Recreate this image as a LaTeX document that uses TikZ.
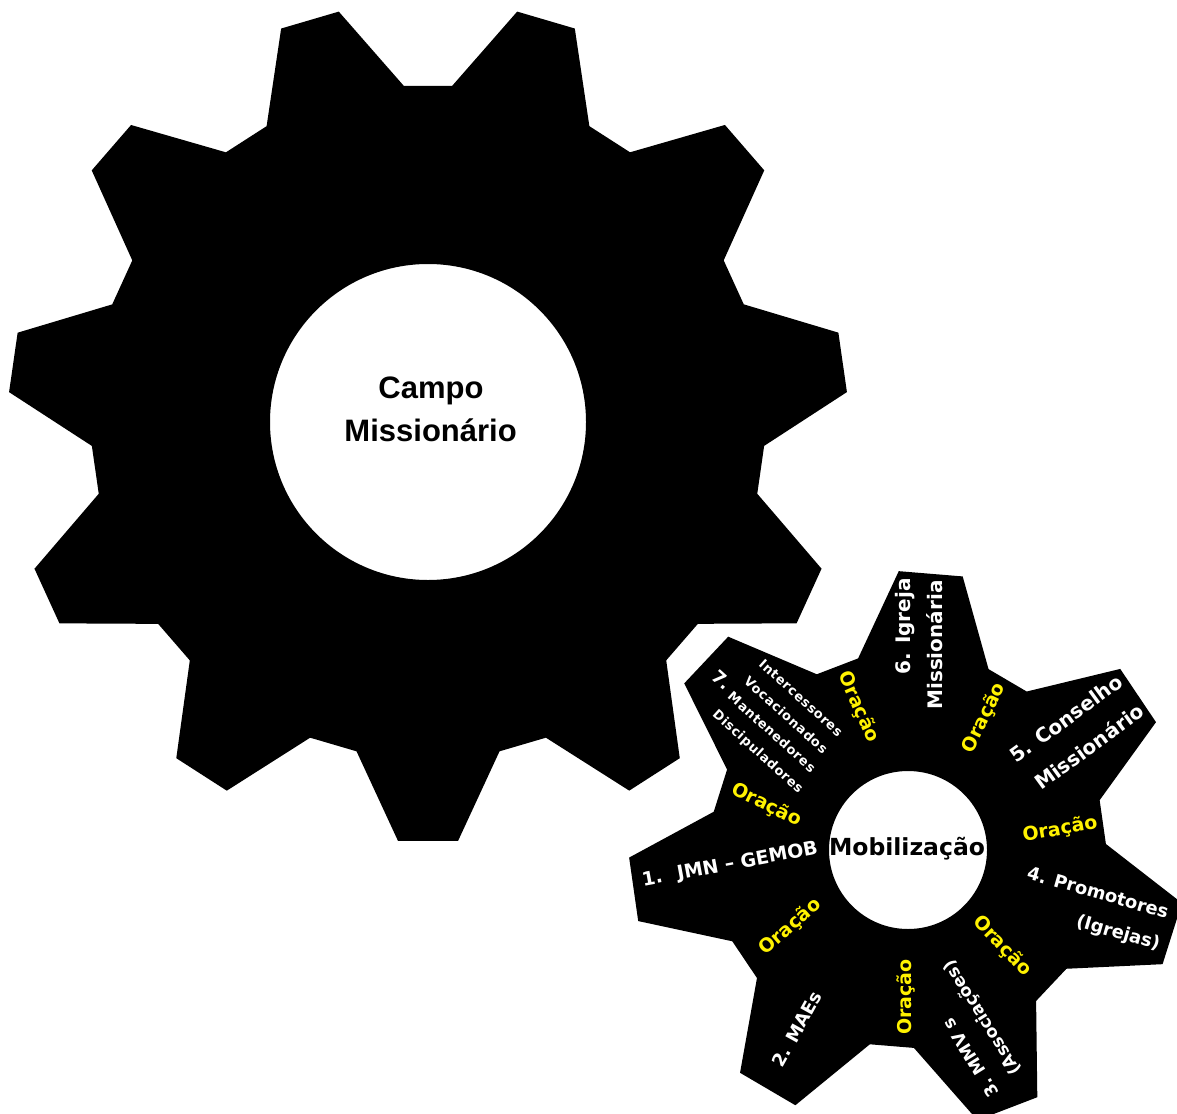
\documentclass[tikz,border=0pt]{standalone}
\usepackage{fontspec}
\newfontfamily\gearfont{DejaVu Sans}
\newfontfamily\gearfontsp[LetterSpace=5]{DejaVu Sans}
\newfontfamily\bigfont{Liberation Sans}
\begin{document}
\begin{tikzpicture}[x=1pt,y=1pt,
  gear/.style={fill=black, even odd rule},
  wt/.style={text=white, inner sep=0pt, font=\gearfont\bfseries\fontsize{#1}{#1}\selectfont},
  wsm/.style={text=white, inner sep=0pt, font=\gearfontsp\bfseries\fontsize{13}{13}\selectfont},
  orc/.style={text=yellow, inner sep=0pt, font=\gearfont\bfseries\fontsize{19}{19}\selectfont},
  midtext/.style={text=black, inner sep=0pt, font=\gearfont\bfseries\fontsize{23.5}{23.5}\selectfont},
  bigtext/.style={text=black, inner sep=0pt, anchor=base, font=\bigfont\bfseries\fontsize{31}{31}\selectfont}]
\useasboundingbox (0,0) rectangle (1177,-1113);
\clip (0,0) rectangle (1177,-1113);
\coordinate (c1) at (428,-422);
\coordinate (c2) at (908,-850);
% big gear: 11 teeth
\begin{scope}[shift={(c1)}]
\fill[gear] (61.39:337)
  \foreach \k [evaluate=\k as \a using 73.64+\k*32.7273] in {0,...,10} {
    -- ({\a-12.25}:337) -- ({\a-4.1}:420) -- ({\a+4.1}:420) -- ({\a+12.25}:337) }
  -- cycle (0,0) circle[radius=158];
\end{scope}
% small gear: 7 teeth
\begin{scope}[shift={(c2)}]
\fill[gear] (66:198)
  \foreach \k [evaluate=\k as \a using 85.3+\k*51.4286] in {0,...,6} {
    -- ({\a-19.3}:198) -- ({\a-6.6}:279) -- ({\a+6.6}:279) -- ({\a+19.3}:198) }
  -- cycle (0,0) circle[radius=79];
\end{scope}
% big gear label
\node[bigtext] (campo) at (431,-398) {Campo};
\node[bigtext] (missao) at (430.6,-441.7) {Missionário};
% small gear labels
\node[midtext] (mob) at (907,-849) {Mobilização};
\node[wt=20, rotate=90] (t6a) at (905,-626.5) {6. Igreja};
\node[wt=20, rotate=90] (t6b) at (935,-645) {Missionária};
\node[wt=20, rotate=36] (t5a) at (1066,-718.5) {5. Conselho};
\node[wt=20, rotate=36] (t5b) at (1089,-746.5) {Missionário};
\node[wt=18, rotate=-16] (t4a) at (1098,-892.5) {4. Promotores};
\node[wt=18, rotate=-16] (t4b) at (1118,-933.5) {(Igrejas)};
\node[wt=17, rotate=122] (t3a) at (971,-1058) {3. MMV s};
\node[wt=17, rotate=122] (t3b) at (982.5,-1017.5) {(Associações)};
\node[wt=18, rotate=61] (t2) at (797,-1029) {2. MAEs};
\node[wt=19, rotate=10.5] (t1) at (730,-865) {1.\hspace{0.8em}JMN – GEMOB};
\node[wt=18, rotate=-42] (t7) at (722,-680) {7.};
\node[wsm, rotate=-42] (t7a) at (801,-698) {Intercessores};
\node[wsm, rotate=-42] (t7b) at (786,-715) {Vocacionados};
\node[wsm, rotate=-42] (t7c) at (772,-732) {Mantenedores};
\node[wsm, rotate=-42] (t7d) at (757.5,-752) {Discipuladores};
% prayer labels
\node[orc, rotate=-66] (o1) at (858.5,-707) {Oração};
\node[orc, rotate=64] (o2) at (984,-718) {Oração};
\node[orc, rotate=10] (o3) at (1060,-829.5) {Oração};
\node[orc, rotate=-46.5] (o4) at (1002,-946) {Oração};
\node[orc, rotate=90] (o5) at (906,-997) {Oração};
\node[orc, rotate=41] (o6) at (790,-927) {Oração};
\node[orc, rotate=-26] (o7) at (766.5,-805) {Oração};
\end{tikzpicture}
\end{document}
